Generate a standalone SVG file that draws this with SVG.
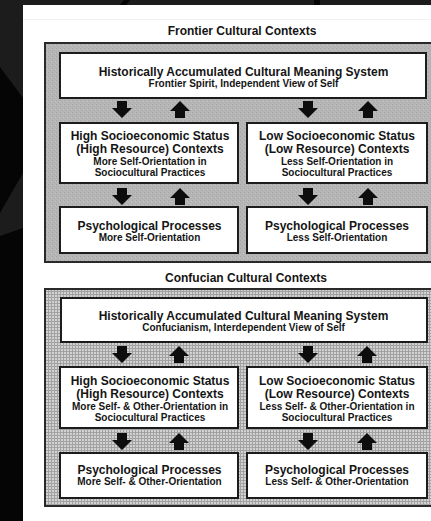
<svg xmlns="http://www.w3.org/2000/svg" width="431" height="521" viewBox="0 0 431 521">
  <style>
    .head { font-family: "Liberation Sans", Arial, sans-serif; font-weight: bold; font-size: 12px; fill: #151515; text-anchor: middle; }
    .sub  { font-family: "Liberation Sans", Arial, sans-serif; font-weight: bold; font-size: 10px; fill: #151515; text-anchor: middle; }
    .box  { fill: #ffffff; stroke: #1c1c1c; stroke-width: 2; }
    .frame { stroke: #2a2a2a; stroke-width: 2; }
    .arrow { fill: #0d0d0d; }
  </style>
  <defs>
    <!-- halftone stipple for the frontier frame -->
    <pattern id="stipple" width="4" height="4" patternUnits="userSpaceOnUse">
      <rect width="4" height="4" fill="#b6b6b6"/>
      <rect x="0" y="0" width="1" height="1" fill="#a4a4a4"/>
      <rect x="2" y="2" width="1" height="1" fill="#a8a8a8"/>
      <rect x="3" y="1" width="1" height="1" fill="#c2c2c2"/>
    </pattern>
    <!-- fine grid for the Confucian frame -->
    <pattern id="grid" width="3" height="3" patternUnits="userSpaceOnUse">
      <rect width="3" height="3" fill="#d2d2d2"/>
      <rect x="0" y="0" width="3" height="1" fill="#a2a2a2"/>
      <rect x="0" y="0" width="1" height="3" fill="#a2a2a2"/>
    </pattern>
    <path id="down" class="arrow" d="M-5,0 H5 V7 H10 L0,17 L-10,7 H-5 Z"/>
    <path id="up" class="arrow" d="M0,0 L10,10 H5 V17 H-5 V10 H-10 Z"/>
  </defs>

  <!-- dark surround -->
  <rect width="431" height="521" fill="#050505"/>
  <polygon points="0,0 431,0 431,5 23,5 23,98 0,67" fill="#1c1c1c"/>
  <polygon points="0,213 23,173 23,228 0,236" fill="#1c1c1c"/>
  <polygon points="124,0 130,0 126,5 120,5" fill="#050505"/>
  <rect x="314" y="0" width="6" height="5" fill="#050505"/>

  <!-- page -->
  <rect x="23" y="5" width="408" height="516" fill="#ffffff"/>
  <rect x="23" y="19" width="408" height="1" fill="#f2f2f2"/>

  <!-- ===== Frontier cultural contexts ===== -->
  <text class="head" x="242" y="35">Frontier Cultural Contexts</text>
  <rect id="frontier-frame" class="frame" x="45" y="43" width="400" height="219" fill="url(#stipple)"/>

  <g id="frontier-meaning">
    <rect class="box" x="60" y="53" width="366" height="45"/>
    <text class="head" x="243.5" y="76">Historically Accumulated Cultural Meaning System</text>
    <text class="sub" x="243.5" y="87">Frontier Spirit, Independent View of Self</text>
  </g>
  <g id="frontier-high-ses">
    <rect class="box" x="60" y="123" width="178" height="60"/>
    <text class="head" x="150" y="140">High Socioeconomic Status</text>
    <text class="head" x="150" y="152.5">(High Resource) Contexts</text>
    <text class="sub" x="150" y="165">More Self-Orientation in</text>
    <text class="sub" x="150" y="176">Sociocultural Practices</text>
  </g>
  <g id="frontier-low-ses">
    <rect class="box" x="247" y="123" width="180" height="60"/>
    <text class="head" x="337" y="140">Low Socioeconomic Status</text>
    <text class="head" x="337" y="152.5">(Low Resource) Contexts</text>
    <text class="sub" x="337" y="165">Less Self-Orientation in</text>
    <text class="sub" x="337" y="176">Sociocultural Practices</text>
  </g>
  <g id="frontier-psych-high">
    <rect class="box" x="60" y="207" width="178" height="46"/>
    <text class="head" x="149.5" y="230">Psychological Processes</text>
    <text class="sub" x="149.5" y="240.5">More Self-Orientation</text>
  </g>
  <g id="frontier-psych-low">
    <rect class="box" x="247" y="207" width="180" height="46"/>
    <text class="head" x="337" y="230">Psychological Processes</text>
    <text class="sub" x="337" y="240.5">Less Self-Orientation</text>
  </g>

  <!-- ===== Confucian cultural contexts ===== -->
  <text class="head" x="246" y="282">Confucian Cultural Contexts</text>
  <rect id="confucian-frame" class="frame" x="45" y="289" width="400" height="217" fill="url(#grid)"/>

  <g id="confucian-meaning">
    <rect class="box" x="61" y="298" width="366" height="44"/>
    <text class="head" x="243.5" y="320">Historically Accumulated Cultural Meaning System</text>
    <text class="sub" x="243.5" y="331">Confucianism, Interdependent View of Self</text>
  </g>
  <g id="confucian-high-ses">
    <rect class="box" x="60" y="367" width="178" height="61"/>
    <text class="head" x="150" y="385">High Socioeconomic Status</text>
    <text class="head" x="150" y="398">(High Resource) Contexts</text>
    <text class="sub" x="150" y="409.5">More Self- &amp; Other-Orientation in</text>
    <text class="sub" x="150" y="420.5">Sociocultural Practices</text>
  </g>
  <g id="confucian-low-ses">
    <rect class="box" x="247" y="367" width="180" height="61"/>
    <text class="head" x="337" y="385">Low Socioeconomic Status</text>
    <text class="head" x="337" y="398">(Low Resource) Contexts</text>
    <text class="sub" x="337" y="409.5">Less Self- &amp; Other-Orientation in</text>
    <text class="sub" x="337" y="420.5">Sociocultural Practices</text>
  </g>
  <g id="confucian-psych-high">
    <rect class="box" x="60" y="453" width="178" height="45"/>
    <text class="head" x="149.5" y="474">Psychological Processes</text>
    <text class="sub" x="149.5" y="485">More Self- &amp; Other-Orientation</text>
  </g>
  <g id="confucian-psych-low">
    <rect class="box" x="247" y="453" width="180" height="45"/>
    <text class="head" x="337" y="474">Psychological Processes</text>
    <text class="sub" x="337" y="485">Less Self- &amp; Other-Orientation</text>
  </g>

  <!-- connectors: paired block arrows between levels -->
  <g id="connectors">
    <use href="#down" x="122" y="101"/>
    <use href="#up" x="180" y="101"/>
    <use href="#down" x="308" y="101"/>
    <use href="#up" x="368" y="101"/>
    <use href="#down" x="122" y="188"/>
    <use href="#up" x="180" y="188"/>
    <use href="#down" x="308" y="188"/>
    <use href="#up" x="368" y="188"/>

    <use href="#down" x="122" y="346"/>
    <use href="#up" x="179" y="346"/>
    <use href="#down" x="308" y="346"/>
    <use href="#up" x="367" y="346"/>
    <use href="#down" x="122" y="433"/>
    <use href="#up" x="179" y="433"/>
    <use href="#down" x="308" y="433"/>
    <use href="#up" x="367" y="433"/>
  </g>
</svg>
